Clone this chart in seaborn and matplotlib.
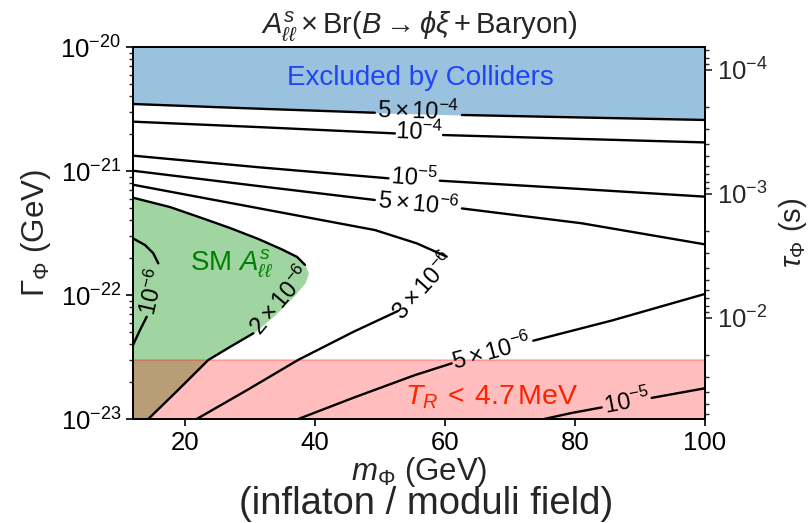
import numpy as np
import matplotlib
matplotlib.use("Agg")
import matplotlib.pyplot as plt
import seaborn as sns

# ---------------- data ----------------
HBAR = 6.582e-25          # GeV s, tau = hbar / Gamma
m_range = [12, 100]
gamma_range = [1e-23, 1e-20]
m_ticks = [20, 40, 60, 80, 100]
tr_gamma = 3e-23          # T_R < 4.7 MeV boundary

# contour 5e-4 (also lower edge of collider exclusion)
c5e4_m = [12.0, 30.6, 49.2, 62.6, 81.2, 100.0]
c5e4_g = [3.47e-21, 3.19e-21, 2.95e-21, 2.83e-21, 2.70e-21, 2.58e-21]
# contour 1e-4
c1e4_m = [12.0, 32.15, 52.3, 59.7, 79.85, 100.0]
c1e4_g = [2.50e-21, 2.25e-21, 2.01e-21, 1.95e-21, 1.82e-21, 1.70e-21]
# contour 1e-5 (upper)
c1e5u_m = [12.0, 31.5, 51.3, 59.2, 79.5, 100.0]
c1e5u_g = [1.33e-21, 1.07e-21, 8.73e-22, 8.35e-22, 7.23e-22, 6.21e-22]
# contour 5e-6 (upper)
c5e6u_m = [12.0, 30.6, 49.2, 62.6, 81.0, 100.0]
c5e6u_g = [1.005e-21, 7.64e-22, 5.84e-22, 4.99e-22, 3.79e-22, 2.56e-22]
# contour 3e-6
c3e6_m = [12.0, 30.6, 49.23, 55.65, 60.26, 52.77, 45.85, 37.38, 29.54, 21.8]
c3e6_g = [7.75e-22, 5.09e-22, 3.34e-22, 2.61e-22, 2.04e-22,
          7.43e-23, 5.03e-23, 2.99e-23, 1.71e-23, 1.0e-23]
# contour 2e-6 (boundary of SM A_ll region)
c2e6_m = [12.0, 17.69, 22.57, 26.92, 31.28, 34.77, 37.23, 38.46, 39.0,
          38.46, 36.62, 34.0, 30.51, 26.92, 23.58, 18.92, 14.35]
c2e6_g = [6.09e-22, 5.12e-22, 4.18e-22, 3.47e-22, 2.83e-22, 2.35e-22,
          2.03e-22, 1.75e-22, 1.50e-22, 1.25e-22, 9.64e-23, 7.03e-23,
          4.91e-23, 3.81e-23, 2.99e-23, 1.71e-23, 1.0e-23]
# contour 1e-6
c1e6_m = [12.0, 13.85, 15.12, 15.89, 14.11, 13.08, 12.0]
c1e6_g = [2.86e-22, 2.53e-22, 2.17e-22, 1.80e-22, 6.68e-23, 5.22e-23, 3.95e-23]
# contour 5e-6 (lower)
c5e6l_m = [37.43, 46.15, 55.38, 61.03, 73.58, 85.69, 100.0]
c5e6l_g = [1.0e-23, 1.50e-23, 2.26e-23, 2.81e-23, 4.28e-23, 6.23e-23, 1.02e-22]
# contour 1e-5 (lower)
c1e5l_m = [75.23, 79.54, 84.11, 91.8, 100.0]
c1e5l_g = [1.0e-23, 1.12e-23, 1.24e-23, 1.48e-23, 1.77e-23]

contour_texts = [r"$5\times10^{-4}$", r"$10^{-4}$", r"$10^{-5}$", r"$5\times10^{-6}$",
                 r"$3\times10^{-6}$", r"$2\times10^{-6}$", r"$10^{-6}$",
                 r"$5\times10^{-6}$", r"$10^{-5}$"]
label_m = [55.85, 56.0, 55.23, 55.85, 56.8, 34.77, 15.0, 67.23, 88.0]
label_g = [3.05e-21, 2.06e-21, 8.79e-22, 5.42e-22, 1.18e-22, 8.95e-23,
           1.06e-22, 3.47e-23, 1.37e-23]
label_rot = [-1.6, -2.1, -4.1, -5.6, 48, 50, 77, 15, 11]
# index range hidden under each inline label
label_gap = [(2, 3), (2, 3), (2, 3), (2, 3), (4, 5), (7, 12), (3, 4), (3, 4), (2, 3)]

# ---------------- style ----------------
sns.set_style("ticks")
plt.rcParams["font.family"] = ["Liberation Sans", "DejaVu Sans"]
plt.rcParams["mathtext.fontset"] = "custom"
plt.rcParams["mathtext.rm"] = "Liberation Sans"
plt.rcParams["mathtext.it"] = "Liberation Sans:italic"
plt.rcParams["mathtext.bf"] = "Liberation Sans:bold"
plt.rcParams["mathtext.sf"] = "Liberation Sans"
plt.rcParams["axes.unicode_minus"] = True

fig = plt.figure(figsize=(8.08, 5.23), dpi=100)
ax = fig.add_axes([0.1646, 0.19885, 0.70792, 0.71128])
ax.set_yscale("log")
ax.set_xlim(*m_range)
ax.set_ylim(*gamma_range)

# regions
ax.fill_between(c5e4_m, c5e4_g, gamma_range[1], color="tab:blue", alpha=0.45, lw=0, zorder=1)
ax.fill_betweenx(c2e6_g, m_range[0], c2e6_m, color="tab:green", alpha=0.45, lw=0, zorder=1)
ax.axhspan(gamma_range[0], tr_gamma, facecolor="red", edgecolor="red", alpha=0.26,
           lw=1.2, zorder=1.5)

# contour lines with inline labels
curves = [(c5e4_m, c5e4_g), (c1e4_m, c1e4_g), (c1e5u_m, c1e5u_g), (c5e6u_m, c5e6u_g),
          (c3e6_m, c3e6_g), (c2e6_m, c2e6_g), (c1e6_m, c1e6_g), (c5e6l_m, c5e6l_g),
          (c1e5l_m, c1e5l_g)]
for (mm, gg), (i0, i1), txt, lm, lg, rot in zip(curves, label_gap, contour_texts,
                                                label_m, label_g, label_rot):
    for seg_m, seg_g in ((mm[:i0 + 1], gg[:i0 + 1]), (mm[i1:], gg[i1:])):
        sns.lineplot(x=seg_m, y=seg_g, ax=ax, color="black", lw=1.7, sort=False,
                     estimator=None, legend=False, zorder=3)
    ax.text(lm, lg, txt, rotation=rot, rotation_mode="anchor", ha="center",
            va="center", fontsize=17, color="black", zorder=4)

# region annotations
ax.text(56.15, 5.62e-21, "Excluded by Colliders", color="#1f45f5", fontsize=20,
        ha="center", va="center", zorder=4)
ax.text(27.2, 1.81e-22, r"SM $A^{s}_{\ell\ell}$", color="green", fontsize=20,
        ha="center", va="center", zorder=4)
ax.text(67.2, 1.50e-23, r"$T_R\:<\:4.7\,\mathrm{MeV}$", color="#ff2200", fontsize=20.5,
        ha="center", va="center", zorder=4)

# axes formatting
ax.set_xticks(m_ticks)
ax.tick_params(axis="both", which="major", labelsize=18.5, length=5, width=1.2,
               direction="out", colors="black")
ax.tick_params(axis="y", which="minor", length=3, width=1.0, direction="out")
for sp in ax.spines.values():
    sp.set_color("black")
    sp.set_linewidth(1.3)

ax.set_title(r"$A^{s}_{\ell\ell}\times\mathrm{Br}(B\to\phi\xi+\mathrm{Baryon})$",
             fontsize=21, pad=10)
ax.set_xlabel(r"$m_\Phi$ (GeV)", fontsize=22.5, labelpad=0)
ax.set_ylabel(r"$\Gamma_\Phi$ (GeV)", fontsize=22.5, labelpad=5)
fig.text(0.527, 0.037, "(inflaton / moduli field)", fontsize=27.5, ha="center",
         va="center")

# right axis: lifetime
ax2 = ax.twinx()
ax2.set_yscale("log")
ax2.set_ylim(HBAR / gamma_range[0], HBAR / gamma_range[1])
ax2.tick_params(axis="y", which="major", labelsize=18.5, length=5, width=1.2)
ax2.tick_params(axis="y", which="minor", length=3, width=1.0)
ax2.set_ylabel(r"$\tau_\Phi$ (s)", fontsize=21, labelpad=7)
for sp in ax2.spines.values():
    sp.set_color("black")
    sp.set_linewidth(1.3)

fig.savefig("out.png", dpi=100)
